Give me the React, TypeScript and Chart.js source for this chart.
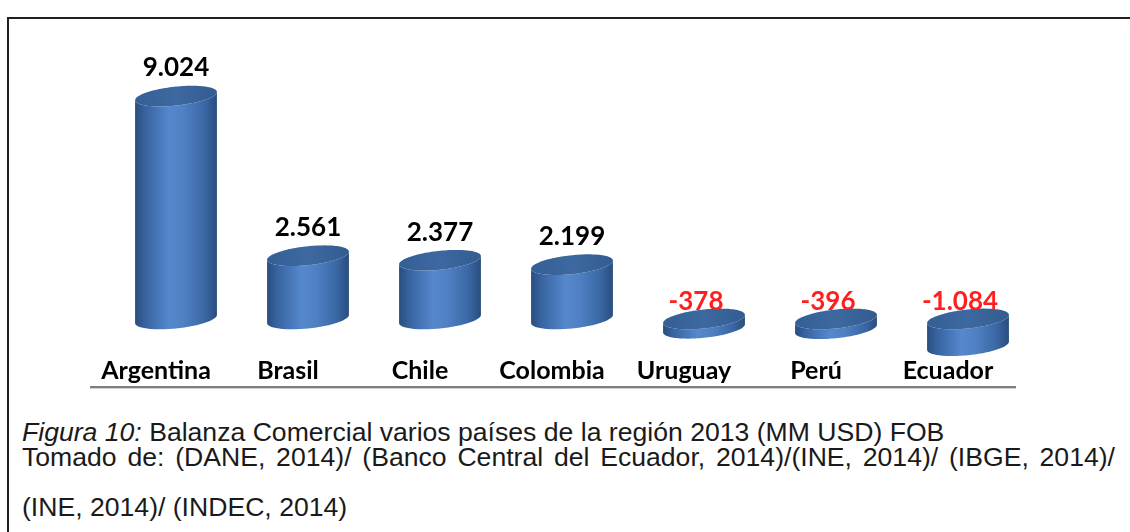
import React, { useEffect, useRef } from 'react';
import { Chart, registerables } from 'chart.js';

Chart.register(...registerables);

// ---- data ----
const categories = ['Argentina', 'Brasil', 'Chile', 'Colombia', 'Uruguay', 'Perú', 'Ecuador'];
const values = [9024, 2561, 2377, 2199, -378, -396, -1084];
const yMin = -1500;
const yMax = 10000;

const captionItalic = 'Figura 10:';
const captionLine1 = ' Balanza Comercial varios países de la región 2013 (MM USD) FOB';
const captionLine2 = 'Tomado de: (DANE, 2014)/ (Banco Central del Ecuador, 2014)/(INE, 2014)/ (IBGE, 2014)/';
const captionLine3 = '(INE, 2014)/ (INDEC, 2014)';

// ---- style constants ----
const DEPTH_SHIFT = 20; // 3D perspective shift of cylinders to the right of the category centre
const ELLIPSE_B = 9.5;
const ELLIPSE_SHEAR = 0.1;
const LABEL_FONT = '"Lato", "DejaVu Sans", sans-serif';

function fmt(v: number): string {
  const s = Math.abs(v).toString().replace(/\B(?=(\d{3})+(?!\d))/g, '.');
  return (v < 0 ? '-' : '') + s;
}

function pt(cx: number, yc: number, a: number, t: number): [number, number] {
  return [cx + a * Math.cos(t), yc + ELLIPSE_B * Math.sin(t) - ELLIPSE_SHEAR * a * Math.cos(t)];
}

function drawCylinder(ctx: CanvasRenderingContext2D, cx: number, a: number, yTop: number, yBot: number) {
  const N = 60;
  ctx.save();
  // body
  ctx.beginPath();
  let p = pt(cx, yTop, a, Math.PI);
  ctx.moveTo(p[0], p[1]);
  for (let j = 0; j <= N; j++) {
    const t = Math.PI - (Math.PI * j) / N;
    p = pt(cx, yBot, a, t);
    ctx.lineTo(p[0], p[1]);
  }
  for (let j = 0; j <= N; j++) {
    const t = (Math.PI * j) / N;
    p = pt(cx, yTop, a, t);
    ctx.lineTo(p[0], p[1]);
  }
  ctx.closePath();
  const g = ctx.createLinearGradient(cx - a, 0, cx + a, 0);
  g.addColorStop(0, '#2a4d7e');
  g.addColorStop(0.12, '#3763a0');
  g.addColorStop(0.42, '#5588cc');
  g.addColorStop(0.6, '#4f80c3');
  g.addColorStop(0.86, '#3966a3');
  g.addColorStop(1, '#294c7c');
  ctx.fillStyle = g;
  ctx.fill();

  // top face
  ctx.beginPath();
  for (let j = 0; j <= 2 * N; j++) {
    const t = (Math.PI * j) / N;
    p = pt(cx, yTop, a, t);
    if (j === 0) ctx.moveTo(p[0], p[1]);
    else ctx.lineTo(p[0], p[1]);
  }
  ctx.closePath();
  const g2 = ctx.createLinearGradient(cx - a, yTop + 8, cx + a, yTop - 8);
  g2.addColorStop(0, '#345f95');
  g2.addColorStop(0.5, '#3d69a0');
  g2.addColorStop(1, '#335c90');
  ctx.fillStyle = g2;
  ctx.fill();
  ctx.restore();
}

const cylinderPlugin = {
  id: 'cylinders',
  afterDatasetsDraw(chart: any) {
    const ctx: CanvasRenderingContext2D = chart.ctx;
    const meta = chart.getDatasetMeta(0);
    const zero = chart.scales.y.getPixelForValue(0);
    meta.data.forEach((el: any) => {
      const { x, y, width } = el.getProps(['x', 'y', 'width'], true);
      const cx = x + DEPTH_SHIFT;
      drawCylinder(ctx, cx, width / 2, Math.min(y, zero), Math.max(y, zero));
    });
    ctx.save();
    ctx.textAlign = 'center';
    ctx.textBaseline = 'middle';
    ctx.font = `bold 26px ${LABEL_FONT}`;
    meta.data.forEach((el: any, i: number) => {
      const { x, y } = el.getProps(['x', 'y'], true);
      const v = values[i];
      const cx = x + DEPTH_SHIFT;
      if (v >= 0) {
        ctx.fillStyle = '#000000';
        ctx.fillText(fmt(v), cx, y - 28);
      } else {
        ctx.fillStyle = '#ff1f1f';
        ctx.fillText(fmt(v), cx - 8, zero - 17);
      }
    });
    ctx.restore();
  },
  afterDraw(chart: any) {
    const ctx: CanvasRenderingContext2D = chart.ctx;
    const xs = chart.scales.x;
    const yLine = xs.bottom + 1;
    ctx.save();
    ctx.strokeStyle = '#7f7f7f';
    ctx.lineWidth = 2;
    ctx.beginPath();
    ctx.moveTo(xs.left, yLine);
    ctx.lineTo(xs.right + 2, yLine);
    ctx.stroke();
    ctx.strokeStyle = '#d0d0d0';
    ctx.lineWidth = 1;
    ctx.beginPath();
    ctx.moveTo(xs.left, yLine + 1.5);
    ctx.lineTo(xs.right + 2, yLine + 1.5);
    ctx.stroke();
    ctx.restore();
  },
};

function BarChart() {
  const ref = useRef<HTMLCanvasElement>(null);
  useEffect(() => {
    if (!ref.current) return;
    const chart = new Chart(ref.current, {
      type: 'bar',
      data: {
        labels: categories,
        datasets: [
          {
            data: values,
            backgroundColor: 'rgba(0,0,0,0)',
            borderWidth: 0,
            barPercentage: 0.62,
            categoryPercentage: 1,
          },
        ],
      },
      options: {
        animation: false,
        responsive: false,
        devicePixelRatio: 1,
        layout: { padding: { left: 90, right: 116, top: 72, bottom: 14 } },
        plugins: { legend: { display: false }, tooltip: { enabled: false } },
        scales: {
          x: {
            grid: { display: false, drawTicks: false },
            border: { display: false },
            ticks: {
              color: '#000000',
              font: { family: LABEL_FONT, weight: 'bold', size: 25 },
              padding: 0,
              maxRotation: 0,
              autoSkip: false,
            },
          },
          y: { display: false, min: yMin, max: yMax },
        },
      },
      plugins: [cylinderPlugin],
    });
    return () => chart.destroy();
  }, []);
  return (
    <canvas
      ref={ref}
      width={1130}
      height={400}
      style={{ position: 'absolute', left: 0, top: 0, width: 1130, height: 400 }}
    />
  );
}

export default function App() {
  const capStyle: React.CSSProperties = {
    position: 'absolute',
    left: 22,
    fontFamily: '"Liberation Sans", Arial, sans-serif',
    fontSize: 26.6,
    lineHeight: '26.6px',
    color: '#1a1a1a',
    whiteSpace: 'nowrap',
  };
  return (
    <div
      style={{
        position: 'fixed',
        left: 0,
        top: 0,
        width: 1130,
        height: 532,
        background: '#ffffff',
        overflow: 'hidden',
      }}
    >
      <div
        style={{
          position: 'absolute',
          left: 7,
          top: 17,
          width: 1200,
          height: 600,
          borderTop: '2px solid #231f20',
          borderLeft: '2px solid #231f20',
        }}
      />
      <BarChart />
      <div style={{ ...capStyle, top: 419 }}>
        <i>{captionItalic}</i>
        {captionLine1}
      </div>
      <div
        style={{
          ...capStyle,
          top: 443.5,
          width: 1093,
          whiteSpace: 'normal',
          textAlign: 'justify',
          textAlignLast: 'justify',
        }}
      >
        {captionLine2}
      </div>
      <div style={{ ...capStyle, top: 493.5 }}>{captionLine3}</div>
    </div>
  );
}
